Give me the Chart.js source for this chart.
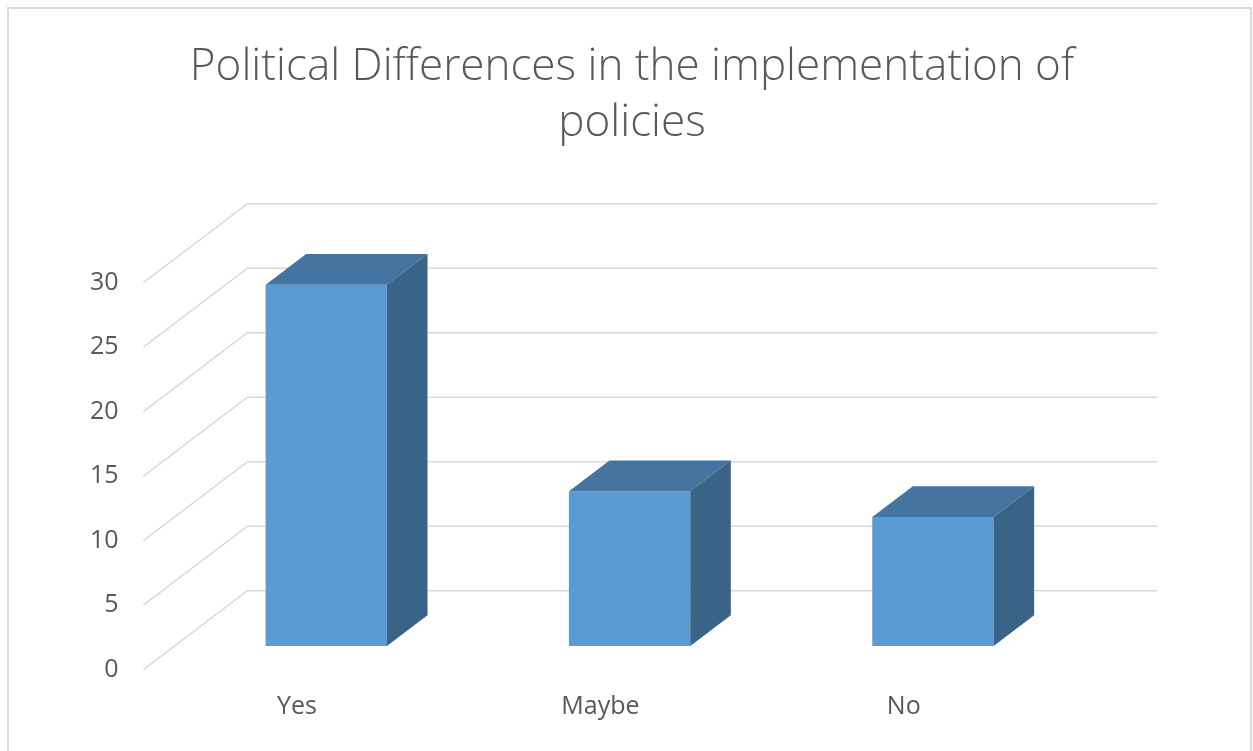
<!DOCTYPE html>
<html>
<head>
<meta charset="utf-8">
<title>Political Differences in the implementation of policies</title>
<script src="https://cdn.jsdelivr.net/npm/chart.js@4.4.1/dist/chart.umd.min.js"></script>
<style>
    html, body { margin: 0; padding: 0; background: #ffffff; overflow: hidden; }
    #marco {
        position: absolute; left: 7px; top: 7px;
        width: 1241px; height: 800px;
        border: 2px solid #d9d9d9;
    }
    #grafico { position: absolute; left: 0; top: 0; }
</style>
</head>
<body>
<div id="marco"></div>
<canvas id="grafico" width="1253" height="751"></canvas>
<script>
// Datos de la encuesta
const categorias = ["Yes", "Maybe", "No"];
const respuestas = [28, 12, 10];
const titulo = ["Political Differences in the implementation of", "policies"];
const ejeMin = 0;
const ejeMax = 30;
const ejePaso = 5;

// Perspectiva oblicua estilo Excel 3D
const profundidad = { x: 104, y: -79 };  // del plano frontal a la pared del fondo
const frenteBarra = 0.30;                // fracción donde empieza la cara frontal de las barras
const fondoBarra = 0.39;                 // grosor de la barra en profundidad

const colorRejilla = "#d9d9d9";
const colorTexto = "#595959";
const fuente = "'Open Sans', Lato, sans-serif";

// Dibuja las paredes (izquierda y fondo) con las líneas de la rejilla
const paredes = {
    id: "paredes",
    beforeDatasetsDraw(chart) {
        const { ctx, chartArea: area, scales: { y } } = chart;
        const dx = frenteBarra * profundidad.x;
        const dy = frenteBarra * profundidad.y;
        ctx.save();
        ctx.strokeStyle = colorRejilla;
        ctx.lineWidth = 1.5;
        y.ticks.forEach(t => {
            const yb = y.getPixelForValue(t.value);
            const fx = area.left - dx;
            const fy = yb - dy;
            const bx = fx + profundidad.x;
            const by = fy + profundidad.y;
            ctx.beginPath();
            ctx.moveTo(fx, fy);
            ctx.lineTo(bx, by);
            ctx.lineTo(bx + area.width, by);
            ctx.stroke();
        });
        ctx.restore();
    }
};

// Caras superior y lateral de cada barra
const barras3d = {
    id: "barras3d",
    afterDatasetsDraw(chart) {
        const { ctx } = chart;
        const dx = fondoBarra * profundidad.x;
        const dy = fondoBarra * profundidad.y;
        ctx.save();
        chart.getDatasetMeta(0).data.forEach(bar => {
            const { x, y, base, width } = bar.getProps(["x", "y", "base", "width"], true);
            const izq = x - width / 2;
            const der = x + width / 2;

            ctx.fillStyle = "#44749f";
            ctx.beginPath();
            ctx.moveTo(izq, y);
            ctx.lineTo(der, y);
            ctx.lineTo(der + dx, y + dy);
            ctx.lineTo(izq + dx, y + dy);
            ctx.closePath();
            ctx.fill();

            ctx.fillStyle = "#3a6487";
            ctx.beginPath();
            ctx.moveTo(der, y);
            ctx.lineTo(der + dx, y + dy);
            ctx.lineTo(der + dx, base + dy);
            ctx.lineTo(der, base);
            ctx.closePath();
            ctx.fill();
        });
        ctx.restore();
    }
};

const ctx = document.getElementById("grafico").getContext("2d");
new Chart(ctx, {
    type: "bar",
    data: {
        labels: categorias,
        datasets: [{
            label: "Respuestas",
            data: respuestas,
            backgroundColor: "#5b9bd5",
            borderWidth: 0,
            barPercentage: 0.4,
            categoryPercentage: 1.0
        }]
    },
    options: {
        responsive: false,
        animation: false,
        layout: { padding: { left: 11, right: 0, top: 0, bottom: 0 } },
        plugins: {
            legend: { display: false },
            tooltip: { enabled: false },
            title: {
                display: true,
                text: titulo,
                color: colorTexto,
                font: { family: fuente, size: 44, weight: "300", lineHeight: 56 / 44 },
                padding: { top: 39, bottom: 108 }
            }
        },
        scales: {
            x: {
                grid: { display: false, drawTicks: false },
                border: { display: false },
                ticks: {
                    color: colorTexto,
                    font: { family: fuente, size: 25 },
                    padding: 46,
                    labelOffset: -frenteBarra * profundidad.x + 2
                },
                afterFit(scale) { scale.height = 105; }
            },
            y: {
                min: ejeMin,
                max: ejeMax,
                grid: { display: false, drawTicks: false },
                border: { display: false },
                ticks: {
                    stepSize: ejePaso,
                    color: colorTexto,
                    font: { family: fuente, size: 25 },
                    padding: 56,
                    labelOffset: -frenteBarra * profundidad.y
                },
                afterFit(scale) { scale.width = 163.6; }
            },
            // espacio vacío a la derecha de la pared del fondo
            margen: {
                position: "right",
                display: true,
                grid: { display: false, drawTicks: false },
                border: { display: false },
                ticks: { display: false },
                afterFit(scale) { scale.width = 168.4; }
            }
        }
    },
    plugins: [paredes, barras3d]
});
</script>
</body>
</html>
